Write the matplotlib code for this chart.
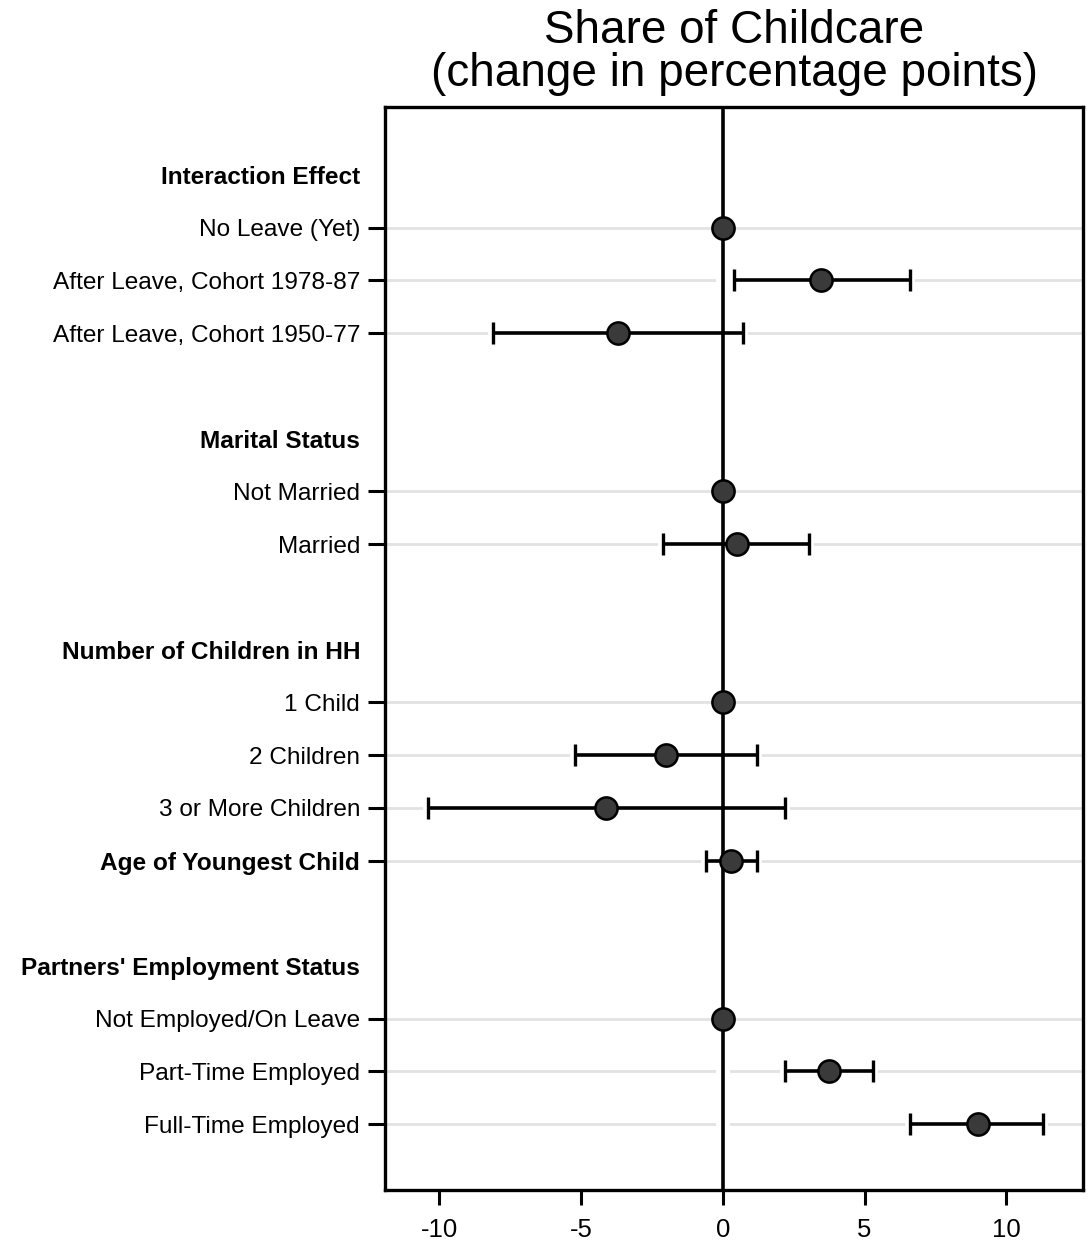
import numpy as np
import matplotlib
matplotlib.use("Agg")
import matplotlib.pyplot as plt

plt.rcParams['font.family'] = ['Liberation Sans', 'DejaVu Sans']

# ---- data ----
row_labels = [
    "Interaction Effect", "No Leave (Yet)", "After Leave, Cohort 1978-87",
    "After Leave, Cohort 1950-77", "",
    "Marital Status", "Not Married", "Married", "",
    "Number of Children in HH", "1 Child", "2 Children", "3 or More Children",
    "Age of Youngest Child", "",
    "Partners' Employment Status", "Not Employed/On Leave",
    "Part-Time Employed", "Full-Time Employed",
]
is_header = [1, 0, 0, 0, 0, 1, 0, 0, 0, 1, 0, 0, 0, 0, 0, 1, 0, 0, 0]
is_bold = [1, 0, 0, 0, 0, 1, 0, 0, 0, 1, 0, 0, 0, 1, 0, 1, 0, 0, 0]
estimate = [np.nan, 0.0, 3.45, -3.7, np.nan,
            np.nan, 0.0, 0.5, np.nan,
            np.nan, 0.0, -2.0, -4.1, 0.3, np.nan,
            np.nan, 0.0, 3.75, 9.0]
ci_low = [np.nan, np.nan, 0.4, -8.1, np.nan,
          np.nan, np.nan, -2.1, np.nan,
          np.nan, np.nan, -5.2, -10.4, -0.6, np.nan,
          np.nan, np.nan, 2.2, 6.6]
ci_high = [np.nan, np.nan, 6.6, 0.7, np.nan,
           np.nan, np.nan, 3.05, np.nan,
           np.nan, np.nan, 1.2, 2.2, 1.2, np.nan,
           np.nan, np.nan, 5.3, 11.3]
x_ticks = [-10, -5, 0, 5, 10]
title = "Share of Childcare\n(change in percentage points)"

# ---- figure ----
fig = plt.figure(figsize=(10.91, 12.43), dpi=100)
ax = fig.add_axes([0.353, 0.0426, 0.6397, 0.8713])

n = len(row_labels)
ypos = np.arange(n)
est = np.array(estimate)
lo = np.array(ci_low)
hi = np.array(ci_high)

data_rows = [i for i in range(n) if not np.isnan(est[i])]
ci_rows = [i for i in data_rows if not np.isnan(lo[i])]

# gridlines at data rows
for i in data_rows:
    ax.axhline(ypos[i], color='#e2e2e2', lw=2.0, zorder=0.5)

# white halos (cut gridlines only)
ax.axvline(0, color='white', lw=10, zorder=1)
for i in ci_rows:
    ax.errorbar(est[i], ypos[i], xerr=[[est[i] - lo[i]], [hi[i] - est[i]]],
                fmt='none', ecolor='white', elinewidth=7,
                capsize=8.5, capthick=7, zorder=1)

# zero line
ax.axvline(0, color='black', lw=2.6, zorder=2)

# error bars
for i in ci_rows:
    ax.errorbar(est[i], ypos[i],
                xerr=[[est[i] - lo[i]], [hi[i] - est[i]]],
                fmt='none', ecolor='black', elinewidth=2.6,
                capsize=8, capthick=2.4, zorder=3)

# markers
ax.plot(est[data_rows], ypos[data_rows], 'o', ms=16, mfc='#3a3a3a',
        mec='black', mew=1.8, zorder=4, linestyle='none')

ax.set_xlim(-11.9, 12.7)
ax.set_ylim(19.25, -1.29)

ax.set_xticks(x_ticks)
ax.set_xticklabels([str(t) for t in x_ticks])
label_rows = [i for i in range(n) if row_labels[i]]
ax.set_yticks(ypos[label_rows])
ax.set_yticklabels([row_labels[i] for i in label_rows])

ax.tick_params(axis='y', length=12, width=2.2, pad=6, labelsize=17.6)
ax.tick_params(axis='x', length=11, width=2.2, pad=9, labelsize=18.5)

for tk, i in zip(ax.yaxis.get_major_ticks(), label_rows):
    if is_header[i]:
        tk.tick1line.set_visible(False)
for lab, i in zip(ax.get_yticklabels(), label_rows):
    if is_bold[i]:
        lab.set_fontweight('bold')

for sp in ax.spines.values():
    sp.set_linewidth(2.4)
    sp.set_color('black')

fig.text(0.673, 0.958, title, ha='center', va='center', fontsize=33,
         linespacing=0.98)

fig.savefig("out.png", dpi=100, facecolor='white')
